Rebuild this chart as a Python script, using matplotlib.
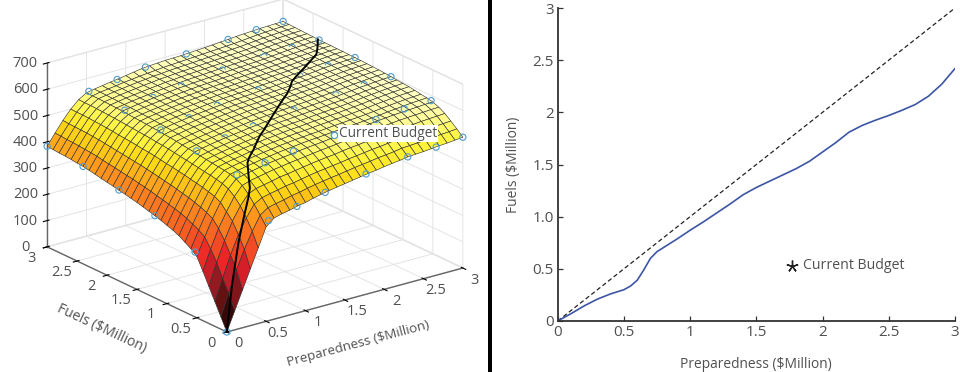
# -*- coding: utf-8 -*-
"""
Budget surface and optimal split between preparedness and fuels
"""
import matplotlib
matplotlib.use('Agg')
import matplotlib.pyplot as plt
from matplotlib.colors import LinearSegmentedColormap
from matplotlib.patches import Rectangle
from matplotlib.path import Path
from mpl_toolkits.mplot3d import proj3d
import numpy as np

plt.rcParams['font.family'] = ['Open Sans', 'DejaVu Sans']
plt.rcParams['grid.color'] = '#e4e4e4'
plt.rcParams['grid.linewidth'] = 0.7

# mesh axes, $Million
grid_prep = [0, 0.1, 0.2, 0.3, 0.4, 0.5, 0.6, 0.7, 0.8, 0.9, 1, 1.1, 1.2, 1.3, 1.4, 1.5,
             1.6, 1.7, 1.8, 1.9, 2, 2.1, 2.2, 2.3, 2.4, 2.5, 2.6, 2.7, 2.8, 2.9, 3]
grid_fuels = list(grid_prep)

# surface height, one row per fuels value
surface_z = [
    [0, 72, 144, 216, 288, 360, 385, 393, 399, 407, 412, 420, 427, 433, 438, 443, 448, 453, 458, 462, 467, 471, 475, 480, 482, 484, 487, 490, 492, 495, 498],
    [47, 130, 210, 280, 340, 393, 414, 421, 427, 435, 440, 447, 453, 458, 463, 467, 472, 477, 481, 485, 490, 493, 497, 502, 504, 506, 509, 512, 514, 516, 519],
    [94, 175, 255, 325, 380, 424, 441, 448, 454, 461, 465, 471, 477, 482, 486, 490, 494, 499, 503, 507, 511, 514, 518, 522, 524, 527, 529, 532, 534, 536, 538],
    [141, 225, 300, 365, 415, 452, 465, 471, 477, 484, 488, 493, 498, 503, 507, 511, 514, 519, 523, 526, 530, 533, 536, 540, 542, 545, 547, 550, 552, 554, 556],
    [188, 265, 335, 390, 440, 474, 484, 490, 496, 502, 506, 511, 515, 519, 523, 527, 530, 534, 538, 541, 544, 548, 551, 554, 557, 560, 562, 564, 566, 568, 569],
    [233, 300, 362, 415, 458, 488, 496, 502, 508, 514, 518, 522, 526, 530, 534, 537, 540, 544, 548, 551, 554, 557, 560, 563, 566, 569, 571, 573, 575, 577, 578],
    [252, 315, 374, 427, 468, 495, 502, 508, 513, 519, 523, 528, 532, 535, 539, 542, 544, 547, 550, 552, 555, 557, 560, 563, 566, 570, 573, 576, 579, 581, 583],
    [266, 327, 383, 434, 473, 499, 506, 512, 517, 522, 527, 531, 536, 539, 543, 545, 548, 550, 553, 556, 558, 561, 563, 566, 569, 573, 576, 579, 582, 584, 586],
    [280, 338, 391, 440, 478, 502, 509, 515, 520, 526, 530, 535, 539, 542, 546, 549, 551, 554, 557, 559, 562, 564, 567, 570, 573, 577, 580, 583, 586, 588, 590],
    [290, 346, 398, 445, 481, 505, 512, 518, 523, 529, 533, 538, 542, 545, 549, 552, 554, 557, 560, 562, 565, 567, 570, 573, 576, 580, 583, 586, 589, 591, 593],
    [298, 353, 403, 449, 485, 508, 515, 521, 526, 531, 536, 540, 545, 548, 552, 554, 557, 559, 562, 565, 567, 570, 572, 575, 578, 582, 585, 588, 591, 593, 595],
    [306, 359, 409, 454, 488, 511, 518, 524, 529, 534, 539, 543, 547, 551, 554, 557, 559, 562, 564, 567, 569, 572, 575, 577, 581, 584, 588, 590, 593, 595, 597],
    [313, 365, 414, 458, 492, 514, 521, 527, 532, 537, 541, 545, 550, 553, 557, 559, 562, 564, 567, 569, 572, 574, 577, 579, 583, 586, 590, 592, 595, 597, 599],
    [319, 370, 418, 462, 495, 517, 524, 530, 535, 540, 544, 548, 552, 556, 559, 562, 564, 567, 569, 572, 574, 577, 579, 582, 585, 588, 592, 594, 597, 599, 601],
    [325, 376, 423, 465, 499, 520, 527, 532, 537, 542, 547, 551, 555, 558, 562, 564, 566, 569, 571, 574, 576, 579, 581, 584, 587, 591, 594, 596, 599, 601, 603],
    [331, 381, 427, 469, 502, 523, 529, 535, 540, 545, 549, 553, 557, 560, 564, 566, 568, 571, 573, 576, 578, 581, 583, 585, 589, 592, 595, 598, 600, 602, 604],
    [336, 385, 431, 473, 505, 526, 532, 538, 543, 547, 551, 555, 559, 562, 566, 568, 570, 573, 575, 577, 580, 582, 584, 587, 590, 593, 596, 599, 601, 603, 605],
    [341, 390, 435, 476, 507, 528, 534, 540, 544, 549, 553, 557, 561, 564, 567, 569, 572, 574, 576, 579, 581, 583, 586, 588, 591, 594, 597, 600, 602, 604, 606],
    [345, 393, 438, 478, 510, 530, 536, 542, 546, 551, 555, 558, 562, 565, 569, 571, 573, 575, 578, 580, 582, 585, 587, 589, 592, 595, 599, 601, 603, 605, 607],
    [350, 397, 441, 481, 512, 532, 538, 543, 548, 552, 556, 560, 564, 567, 570, 572, 574, 576, 579, 581, 583, 585, 588, 590, 593, 596, 599, 601, 603, 606, 607],
    [354, 401, 444, 484, 514, 534, 540, 545, 550, 554, 558, 561, 565, 568, 571, 573, 575, 578, 580, 582, 584, 587, 589, 591, 594, 597, 600, 602, 604, 607, 608],
    [358, 404, 447, 486, 516, 536, 542, 547, 551, 555, 559, 563, 566, 569, 572, 574, 576, 578, 581, 583, 585, 587, 589, 591, 594, 597, 600, 602, 604, 607, 608],
    [363, 408, 450, 488, 518, 537, 543, 548, 552, 556, 560, 564, 567, 570, 573, 575, 577, 579, 582, 584, 586, 588, 590, 592, 595, 598, 601, 603, 605, 608, 609],
    [367, 412, 453, 491, 520, 539, 545, 550, 554, 558, 561, 565, 568, 571, 574, 576, 578, 580, 582, 585, 587, 589, 591, 593, 596, 599, 601, 603, 606, 608, 609],
    [371, 415, 456, 493, 522, 541, 546, 551, 555, 559, 563, 566, 570, 572, 575, 577, 579, 581, 583, 585, 587, 589, 591, 593, 596, 599, 602, 604, 606, 608, 609],
    [373, 417, 458, 495, 523, 542, 547, 552, 556, 560, 564, 567, 571, 573, 576, 578, 580, 582, 584, 586, 588, 590, 592, 594, 597, 600, 603, 605, 607, 609, 610],
    [376, 419, 460, 496, 525, 543, 548, 553, 557, 561, 565, 568, 572, 574, 577, 579, 581, 583, 585, 587, 589, 591, 593, 595, 598, 601, 604, 606, 608, 610, 611],
    [378, 421, 461, 498, 526, 544, 549, 554, 558, 562, 566, 569, 573, 575, 578, 580, 582, 584, 586, 588, 590, 592, 594, 596, 599, 602, 605, 607, 609, 611, 612],
    [379, 422, 462, 499, 527, 545, 550, 555, 559, 563, 567, 570, 574, 576, 579, 581, 583, 585, 587, 589, 591, 593, 595, 597, 600, 603, 606, 608, 610, 612, 613],
    [381, 424, 463, 499, 527, 545, 551, 555, 559, 564, 567, 571, 574, 577, 580, 582, 584, 586, 588, 590, 592, 594, 596, 598, 601, 604, 607, 609, 611, 613, 614],
    [383, 425, 465, 500, 528, 546, 552, 557, 562, 566, 571, 576, 581, 584, 586, 588, 589, 590, 592, 594, 596, 598, 601, 603, 606, 608, 610, 612, 613, 614, 615],
]

# simulated runs (open circles), one row per fuels value
runs_prep = [0, 0.53, 0.89, 1.25, 1.77, 2.3, 2.66, 3]
runs_fuels = [0, 0.53, 1.2, 1.8, 2.4, 3]
runs_z = [
    [0, 381, 406, 430, 458, 480, 488, 498],
    [247, 498, 515, 530, 549, 565, 576, 580],
    [313, 517, 537, 553, 572, 587, 596, 599],
    [346, 532, 549, 567, 583, 594, 603, 607],
    [371, 542, 561, 576, 594, 602, 608, 609],
    [383, 549, 565, 583, 591, 603, 611, 615],
]

# best split laid on the surface
best_prep = [0, 0.15, 0.32, 0.42, 0.5, 0.58, 0.65, 0.75, 0.82, 0.9, 1, 1.12, 1.25, 1.4, 1.5,
             1.62, 1.75, 1.88, 2, 2.12, 2.23, 2.33, 2.48, 2.66, 2.76, 2.88, 3]
best_fuels = [0, 0.105, 0.224, 0.265, 0.30, 0.377, 0.49, 0.64, 0.71, 0.785, 0.87, 0.97, 1.09,
              1.22, 1.28, 1.355, 1.43, 1.51, 1.62, 1.73, 1.84, 1.89, 1.96, 2.06, 2.13, 2.27, 2.42]
best_z = [0, 165, 293, 377, 436, 460, 488, 514, 518, 517, 518, 528, 528, 524, 536,
          549, 565, 577, 570, 572, 575, 583, 594, 603, 603, 601, 609]

# same split in the right panel
curve_prep = [0, 0.1, 0.2, 0.3, 0.4, 0.5, 0.55, 0.6, 0.65, 0.7, 0.75, 0.8, 0.9, 1, 1.1, 1.2, 1.3,
              1.4, 1.5, 1.6, 1.7, 1.8, 1.9, 2, 2.1, 2.2, 2.3, 2.4, 2.5, 2.6, 2.7, 2.8, 2.9, 3]
curve_fuels = [0, 0.07, 0.145, 0.21, 0.26, 0.30, 0.335, 0.39, 0.49, 0.60, 0.665, 0.705, 0.785, 0.87,
               0.95, 1.035, 1.12, 1.21, 1.28, 1.34, 1.40, 1.46, 1.53, 1.62, 1.71, 1.81, 1.875,
               1.925, 1.97, 2.02, 2.075, 2.155, 2.27, 2.42]

budget_prep = 1.77
budget_fuels = 0.53
budget_z = 549

z_ticks = [0, 100, 200, 300, 400, 500, 600, 700]
xy_ticks = [0, 0.5, 1, 1.5, 2, 2.5, 3]
xy_labels = ['0', '0.5', '1', '1.5', '2', '2.5', '3']
right_y_labels = ['0', '0.5', '1.0', '1.5', '2', '2.5', '3']

TEXT = '#505050'
BLUE = '#4f9bd0'
W, H = 960.0, 372.0

surface_colors = LinearSegmentedColormap.from_list('budget', [
    (0.0, '#000000'), (100/640, '#5a0f0f'), (180/640, '#aa1e28'), (230/640, '#eb1e28'),
    (300/640, '#f55a23'), (380/640, '#ff911e'), (450/640, '#ffd714'), (500/640, '#fff53c'),
    (550/640, '#fffc90'), (590/640, '#ffffc0'), (1.0, '#ffffd8')])

fig = plt.figure(figsize=(9.6, 3.72), dpi=100)

# left panel
ax = fig.add_axes([23.8/W, -24.7/H, 450.2/W, 450.2/H], projection='3d')
ax.patch.set_alpha(0)
ax.set_proj_type('ortho')
ax.view_init(elev=21, azim=-127.1)
ax.set_box_aspect((296, 298, 197))
ax.computed_zorder = False
ax.set_xlim(0, 3, view_margin=0)
ax.set_ylim(0, 3, view_margin=0)
ax.set_zlim(0, 700, view_margin=0)


def label3d(x, y, z, text, **kw):
    """ plain 2D text at a projected 3D position """
    px, py, _ = proj3d.proj_transform(x, y, z, ax.get_proj())
    return ax.text2D(px, py, text, transform=ax.transData, color=TEXT, **kw)


gx, gy = np.meshgrid(grid_prep, grid_fuels)
ax.plot_surface(gx, gy, np.array(surface_z, dtype=float), rstride=1, cstride=1, cmap=surface_colors,
                vmin=0, vmax=640, shade=False, edgecolor='#2e2e2e', linewidth=0.42,
                antialiased=True, zorder=2)

# circles further back sit half under the surface, only the top arc shows
arc = Path.arc(10, 170)
for j, fuel in enumerate(runs_fuels):
    for i, prep in enumerate(runs_prep):
        on_edge = i in (0, len(runs_prep) - 1) or j in (0, len(runs_fuels) - 1)
        whole = on_edge or i == 1 or j == 1
        ax.scatter([prep], [fuel], [runs_z[j][i]], s=20, marker='o' if whole else arc,
                   facecolors='none', edgecolors=BLUE, linewidths=0.8, depthshade=False, zorder=3)
ax.plot(best_prep, best_fuels, best_z, color='black', lw=1.4, zorder=4)
ax.scatter([budget_prep], [budget_fuels], [budget_z], s=20, facecolors='white',
           edgecolors=BLUE, linewidths=0.8, depthshade=False, zorder=5)
label3d(budget_prep + 0.06, budget_fuels, budget_z, 'Current Budget', fontsize=9.8,
        va='center', ha='left', zorder=6,
        bbox=dict(facecolor='white', edgecolor='none', pad=0.8))

for a in (ax.xaxis, ax.yaxis, ax.zaxis):
    a.set_pane_color((1, 1, 1, 1))
    a.pane.set_edgecolor('#e4e4e4')
    a.line.set_color('#666666')
    a.line.set_linewidth(1.0)
    a.label.set_visible(False)
ax.set_xticks(xy_ticks)
ax.set_xticklabels([])
ax.set_yticks(xy_ticks)
ax.set_yticklabels([])
ax.set_zticks(z_ticks)
ax.set_zticklabels([])

# tick labels and axis titles placed by hand, mplot3d's own offsets land too far out
for tick, label in zip(xy_ticks, xy_labels):
    label3d(tick, -0.2, -24, label, fontsize=10.5, ha='center', va='center')
    label3d(-0.2, tick, -27, label, fontsize=10.5, ha='center', va='center')
for tick in z_ticks:
    label3d(-0.125, 3.2, tick - 14, str(tick), fontsize=10.5, ha='center', va='center')
fig.text(358/W, 1 - 344/H, 'Preparedness (\\$Million)', fontsize=9.6, color=TEXT, rotation=15,
         ha='center', va='center')
fig.text(102/W, 1 - 329/H, 'Fuels (\\$Million)', fontsize=10, color=TEXT, rotation=-25,
         ha='center', va='center')

# divider between the panels
fig.add_artist(Rectangle((488/W, 0), 4.5/W, 1, transform=fig.transFigure, facecolor='black',
                         edgecolor='none'))

# right panel
ax2 = fig.add_axes([557.7/W, 51/H, 397.3/W, 313/H])
ax2.plot([0, 3], [0, 3], color='#222222', lw=0.9, dashes=(3.5, 2.2))
ax2.plot(curve_prep, curve_fuels, color='#3c55a5', lw=1.2)
ax2.plot([budget_prep], [budget_fuels], marker=(5, 2, 0), ms=8.5, mew=1.0, color='#222222', ls='none')
ax2.text(budget_prep + 0.08, budget_fuels, 'Current Budget', fontsize=10.2, color=TEXT, va='center')
ax2.set_xlim(0, 3)
ax2.set_ylim(0, 3)
ax2.set_xticks(xy_ticks)
ax2.set_xticklabels(xy_labels)
ax2.set_yticks(xy_ticks)
ax2.set_yticklabels(right_y_labels)
ax2.spines['top'].set_visible(False)
ax2.spines['right'].set_visible(False)
ax2.spines['left'].set_color('#333333')
ax2.spines['bottom'].set_color('#333333')
ax2.spines['left'].set_linewidth(1.3)
ax2.spines['bottom'].set_linewidth(1.3)
ax2.tick_params(direction='in', length=3.5, width=0.9, color='#333333', labelsize=11,
                labelcolor=TEXT, pad=3)
ax2.set_xlabel('Preparedness (\\$Million)', fontsize=9.9, color=TEXT, labelpad=12)
ax2.set_ylabel('Fuels (\\$Million)', fontsize=9.9, color=TEXT, labelpad=8)

fig.savefig('out.png', dpi=100)
